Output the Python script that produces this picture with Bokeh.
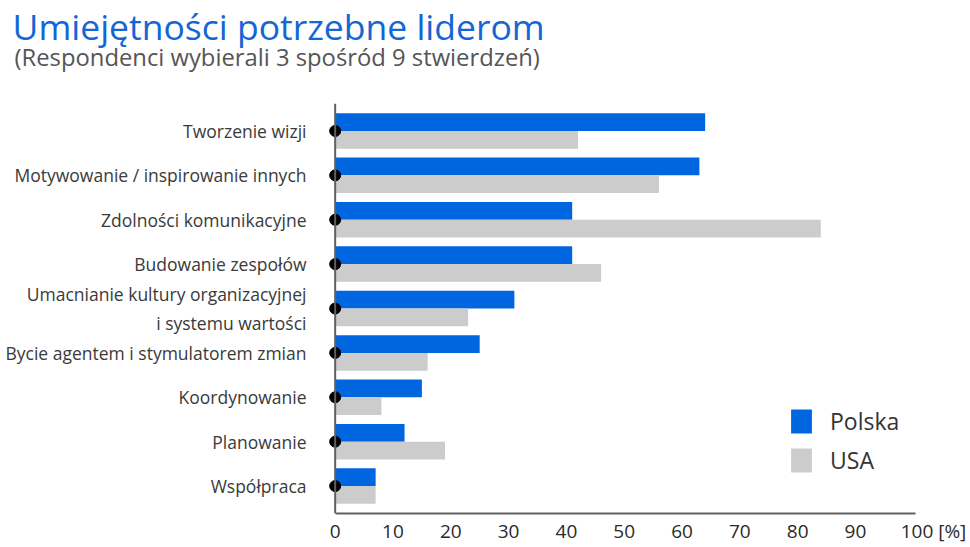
from bokeh.plotting import figure
from bokeh.models import (FactorRange, Range1d, Title, Legend, LegendItem, ColumnDataSource,
                          FixedTicker, LinearAxis, Span)
from bokeh.transform import dodge
from bokeh.embed import file_html
from bokeh.resources import INLINE

categories = [
    "Tworzenie wizji",
    "Motywowanie / inspirowanie innych",
    "Zdolności komunikacyjne",
    "Budowanie zespołów",
    "Umacnianie kultury organizacyjnej\ni systemu wartości",
    "Bycie agentem i stymulatorem zmian",
    "Koordynowanie",
    "Planowanie",
    "Współpraca",
]
polska = [64, 63, 41, 41, 31, 25, 15, 12, 7]
usa = [42, 56, 84, 46, 23, 16, 8, 19, 7]
x_ticks = [0, 10, 20, 30, 40, 50, 60, 70, 80, 90, 100]
x_tick_labels = ["0", "10", "20", "30", "40", "50", "60", "70", "80", "90", "100 [%]"]
series_names = ["Polska", "USA"]
title_text = "Umiejętności potrzebne liderom"
subtitle_text = "(Respondenci wybierali 3 spośród 9 stwierdzeń)"

BLUE = "#0066e0"
GREY = "#cccccc"
AXIS = "#606060"
FONT = "Open Sans"

src = ColumnDataSource(dict(cat=categories, polska=polska, usa=usa, zero=[0] * len(categories)))

p = figure(
    width=970, height=547,
    y_range=FactorRange(*reversed(categories), range_padding=0.0265),
    x_range=Range1d(-1.5, 109.9),
    output_backend="svg", toolbar_location=None,
    min_border_left=326, min_border_right=0, min_border_top=103, min_border_bottom=34,
)
p.outline_line_color = None
p.grid.visible = False

r_pl = p.hbar(y=dodge("cat", 0.2, range=p.y_range), right="polska", left=0, height=0.4,
              source=src, fill_color=BLUE, line_color=None)
r_us = p.hbar(y=dodge("cat", -0.2, range=p.y_range), right="usa", left=0, height=0.4,
              source=src, fill_color=GREY, line_color=None)
p.add_layout(Span(location=0, dimension="height", line_color=AXIS, line_width=2))
p.scatter(x="zero", y="cat", source=src, size=11, color="black")

# titles (subtitle first so main title sits on top)
sub = Title(text=subtitle_text, text_font=FONT, text_font_size="23.8px", text_font_style="normal",
            text_color="#555555", align="left", offset=-312, standoff=62)
p.add_layout(sub, "above")
main = Title(text=title_text, text_font=FONT, text_font_size="35.5px", text_font_style="normal",
             text_color="#1466d6", align="left", offset=-314, standoff=-85)
p.add_layout(main, "above")

# y axis (labels only, line drawn as span at x=0)
ya = p.yaxis[0]
ya.axis_line_color = None
ya.major_tick_line_color = None
ya.minor_tick_line_color = None
ya.major_tick_out = 0
ya.major_tick_in = 0
ya.major_label_standoff = 20
ya.major_label_text_font = FONT
ya.major_label_text_font_size = "17.5px"
ya.major_label_text_color = "#3a3a3a"

# x axis line
xa = p.xaxis[0]
xa.ticker = FixedTicker(ticks=[])
xa.bounds = (0, 100.3)
xa.axis_line_color = AXIS
xa.axis_line_width = 2
xa.major_tick_line_color = None
xa.minor_tick_line_color = None
xa.major_tick_out = 0
xa.major_tick_in = 0
xa.major_label_standoff = 0

# x tick labels
label_pos = x_ticks[:-1] + [x_ticks[-1] + 3.5]
xl = LinearAxis(
    ticker=FixedTicker(ticks=label_pos),
    major_label_overrides={k: v for k, v in zip(label_pos, x_tick_labels)},
    axis_line_color=None, major_tick_line_color=None, minor_tick_line_color=None,
    major_tick_out=0, major_tick_in=0,
    major_label_standoff=4, major_label_text_font=FONT, major_label_text_font_size="19px",
    major_label_text_color="#2a2a2a",
)
p.add_layout(xl, "below")

legend = Legend(
    items=[LegendItem(label=series_names[0], renderers=[r_pl]),
           LegendItem(label=series_names[1], renderers=[r_us])],
    location=(462, 37), padding=0, margin=0, spacing=7,
    glyph_width=26, glyph_height=30, label_standoff=16,
    label_text_font=FONT, label_text_font_size="23px", label_text_color="#333333",
    border_line_color=None, background_fill_alpha=0,
)
p.add_layout(legend, "center")

open("out.html", "w").write(file_html(p, INLINE))
